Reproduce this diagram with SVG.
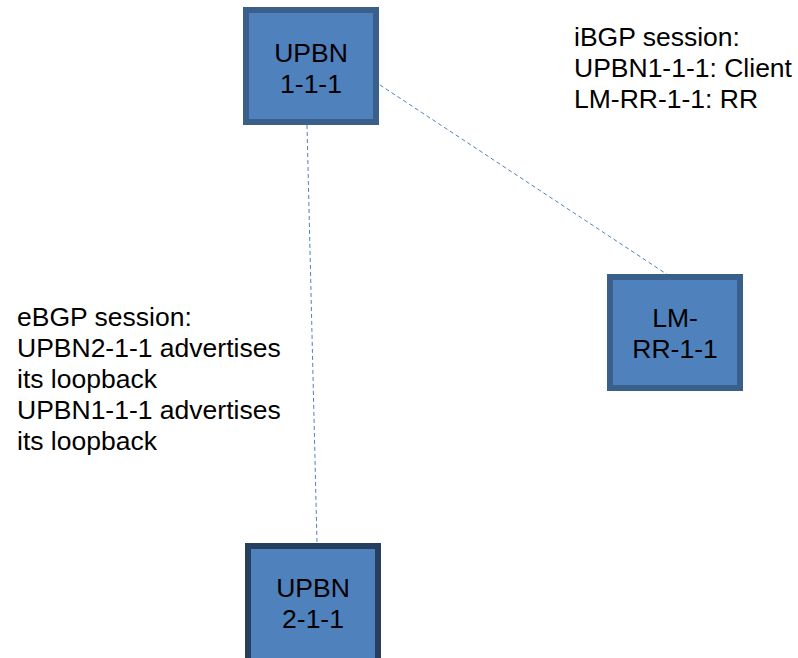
<svg xmlns="http://www.w3.org/2000/svg" width="798" height="658" viewBox="0 0 798 658">
  <style>
    .box { fill: #4f81bd; stroke: #3a5f8b; stroke-width: 6; }
    .box.dark { stroke: #263f5f; }
    .lbl { font-family: "Liberation Sans", Arial, sans-serif; font-size: 26.5px; fill: #000; }
    .mid { text-anchor: middle; }
    .link { stroke: #4f81bd; stroke-width: 1; stroke-dasharray: 4 3; fill: none; }
  </style>
  <rect width="798" height="658" fill="#ffffff"/>

  <!-- BGP sessions -->
  <g id="connectors">
    <line class="link" x1="307" y1="125" x2="317" y2="543"/>
    <line class="link" x1="374" y1="81" x2="668" y2="275"/>
  </g>

  <g id="upbn-1-1-1">
    <rect class="box" x="246" y="10" width="130" height="112"/>
    <text class="lbl mid" x="311" y="62">UPBN</text>
    <text class="lbl mid" x="311" y="93">1-1-1</text>
  </g>

  <g id="lm-rr-1-1">
    <rect class="box" x="610" y="277" width="130" height="111"/>
    <text class="lbl mid" x="675" y="327">LM-</text>
    <text class="lbl mid" x="675" y="358">RR-1-1</text>
  </g>

  <g id="upbn-2-1-1">
    <rect class="box dark" x="248" y="546" width="130" height="120"/>
    <text class="lbl mid" x="313" y="597">UPBN</text>
    <text class="lbl mid" x="313" y="628">2-1-1</text>
  </g>

  <g id="ibgp-note">
    <text class="lbl" x="574" y="46">iBGP session:</text>
    <text class="lbl" x="574" y="77">UPBN1-1-1: Client</text>
    <text class="lbl" x="574" y="108">LM-RR-1-1: RR</text>
  </g>

  <g id="ebgp-note">
    <text class="lbl" x="17" y="326">eBGP session:</text>
    <text class="lbl" x="17" y="357">UPBN2-1-1 advertises</text>
    <text class="lbl" x="17" y="388">its loopback</text>
    <text class="lbl" x="17" y="419">UPBN1-1-1 advertises</text>
    <text class="lbl" x="17" y="450">its loopback</text>
  </g>
</svg>
